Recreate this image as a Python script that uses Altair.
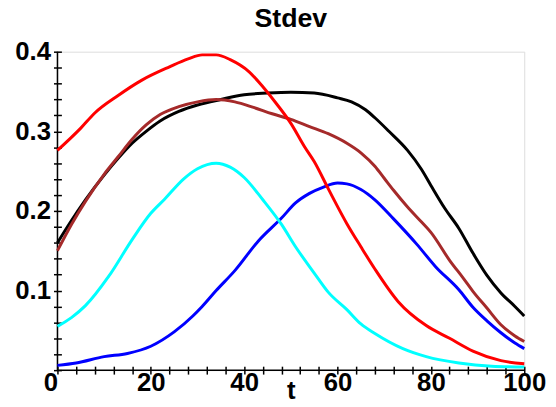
import altair as alt
import pandas as pd

# ---- data ----
t_black = [0, 3, 6, 10, 13, 16, 19, 22, 26, 30, 35, 40, 45, 50, 55, 60, 63, 66, 68, 71, 75, 78, 80, 83, 86, 89, 92, 95, 98, 100]
black = [0.160, 0.188, 0.214, 0.245, 0.266, 0.285, 0.300, 0.313, 0.325, 0.333, 0.340, 0.346, 0.348, 0.349, 0.348, 0.342, 0.337, 0.327, 0.317, 0.300, 0.276, 0.252, 0.232, 0.203, 0.178, 0.147, 0.119, 0.097, 0.080, 0.068]

t_brown = [0, 3, 6, 10, 13, 16, 19, 22, 26, 30, 34, 38, 42, 46, 50, 54, 58, 62, 65, 68, 70, 72, 75, 78, 80, 84, 87, 89, 92, 95, 98, 100]
brown = [0.150, 0.183, 0.212, 0.246, 0.268, 0.290, 0.308, 0.321, 0.331, 0.337, 0.340, 0.337, 0.330, 0.322, 0.315, 0.306, 0.297, 0.285, 0.273, 0.256, 0.241, 0.226, 0.205, 0.186, 0.173, 0.138, 0.115, 0.099, 0.078, 0.057, 0.043, 0.036]

t_blue = [0, 4, 10, 15, 20, 25, 29, 31, 34, 38, 43, 48, 51, 54, 57, 60, 62, 65, 68, 72, 77, 81, 86, 89, 92, 95, 98, 100]
blue = [0.006, 0.009, 0.017, 0.021, 0.030, 0.048, 0.068, 0.080, 0.100, 0.125, 0.162, 0.191, 0.210, 0.222, 0.230, 0.235, 0.234, 0.227, 0.214, 0.190, 0.158, 0.130, 0.101, 0.079, 0.062, 0.047, 0.034, 0.027]

t_cyan = [0, 3, 6, 11, 16, 20, 23, 27, 30, 34, 37, 40, 44, 48, 51, 55, 58, 62, 65, 68, 74, 79, 86, 93, 100]
cyan = [0.055, 0.066, 0.081, 0.118, 0.164, 0.197, 0.215, 0.240, 0.253, 0.260, 0.255, 0.242, 0.214, 0.183, 0.155, 0.122, 0.098, 0.076, 0.058, 0.046, 0.027, 0.017, 0.009, 0.005, 0.004]

t_red = [0, 5, 8, 13, 18, 24, 28, 31, 34, 37, 41, 44, 47, 50, 53, 55, 58, 62, 65, 68, 73, 79, 84, 89, 95, 100]
red = [0.276, 0.304, 0.323, 0.345, 0.364, 0.381, 0.391, 0.396, 0.396, 0.390, 0.375, 0.356, 0.334, 0.310, 0.280, 0.262, 0.228, 0.184, 0.155, 0.127, 0.086, 0.056, 0.040, 0.024, 0.012, 0.008]

series_names = ["black", "brown", "blue", "cyan", "red"]
series_colors = ["#000000", "#A52A2A", "#0000FF", "#00FFFF", "#FF0000"]

x_domain = [0, 100]
y_domain = [0, 0.4]
x_ticks = list(range(0, 101, 4))
y_ticks = [round(i * 0.02, 2) for i in range(0, 21)]

rows = []
for name, ts, ys in zip(series_names, [t_black, t_brown, t_blue, t_cyan, t_red],
                        [black, brown, blue, cyan, red]):
    for i, (t, v) in enumerate(zip(ts, ys)):
        rows.append({"series": name, "t": t, "v": v, "i": i})
df = pd.DataFrame(rows)

FONT = "Liberation Sans"
FS = 26

x_scale = alt.Scale(domain=x_domain, nice=False, zero=False)
y_scale = alt.Scale(domain=y_domain, nice=False, zero=False)

x_axis = alt.Axis(
    values=x_ticks, tickCount=200, offset=-4, tickSize=8, tickColor="black", tickWidth=1.5,
    domain=False, grid=False, labelOverlap=False, labelFlush=False, labelBound=False,
    labelExpr="datum.value % 20 == 0 ? format(datum.value, 'd') : ''",
    labelFont=FONT, labelFontSize=FS, labelFontWeight="bold", labelColor="black",
    labelPadding=-4,
    labelAlign={"condition": {"test": "datum.value == 0", "value": "right"}, "value": "center"},
    title="t", titleFont=FONT, titleFontSize=FS, titleFontWeight="bold", titleColor="black",
    titleY=12, titleBaseline="top",
)
y_axis = alt.Axis(
    values=y_ticks, tickCount=200, offset=-4, tickSize=8, tickColor="black", tickWidth=1.5,
    domain=False, grid=False, labelOverlap=False, labelFlush=False, labelBound=False,
    labelExpr="(datum.value > 0.001 && abs(datum.value*10 - round(datum.value*10)) < 0.001) ? format(datum.value, '.1f') : ''",
    labelFont=FONT, labelFontSize=FS, labelFontWeight="bold", labelColor="black",
    labelPadding=3, title=None,
)

lines = alt.Chart(df).mark_line(strokeWidth=3, interpolate="monotone").encode(
    x=alt.X("t:Q", scale=x_scale, axis=x_axis),
    y=alt.Y("v:Q", scale=y_scale, axis=y_axis),
    color=alt.Color("series:N", scale=alt.Scale(domain=series_names, range=series_colors), legend=None),
    order="i:Q",
    detail="series:N",
)

xline = alt.Chart(pd.DataFrame({"x": [x_domain[0]], "x2": [x_domain[1]], "y": [y_domain[0]]})).mark_rule(
    color="black", strokeWidth=1.5
).encode(x=alt.X("x:Q", scale=x_scale, axis=x_axis), x2="x2:Q", y=alt.Y("y:Q", scale=y_scale, axis=y_axis))
yline = alt.Chart(pd.DataFrame({"x": [x_domain[0]], "y": [y_domain[0]], "y2": [y_domain[1]]})).mark_rule(
    color="black", strokeWidth=1.5
).encode(x=alt.X("x:Q", scale=x_scale, axis=x_axis), y=alt.Y("y:Q", scale=y_scale, axis=y_axis), y2="y2:Q")

chart = alt.layer(xline, yline, lines).properties(
    width=472, height=322,
    title=alt.TitleParams("Stdev", font=FONT, fontSize=27, fontWeight="bold", color="black",
                          anchor="middle", offset=6),
    autosize=alt.AutoSizeParams(type="none"),
    padding={"left": 50, "top": 42, "right": 24, "bottom": 27},
).configure_view(stroke=None).configure(background="white")

chart.save("out.html", embed_options={"renderer": "svg", "actions": False})
